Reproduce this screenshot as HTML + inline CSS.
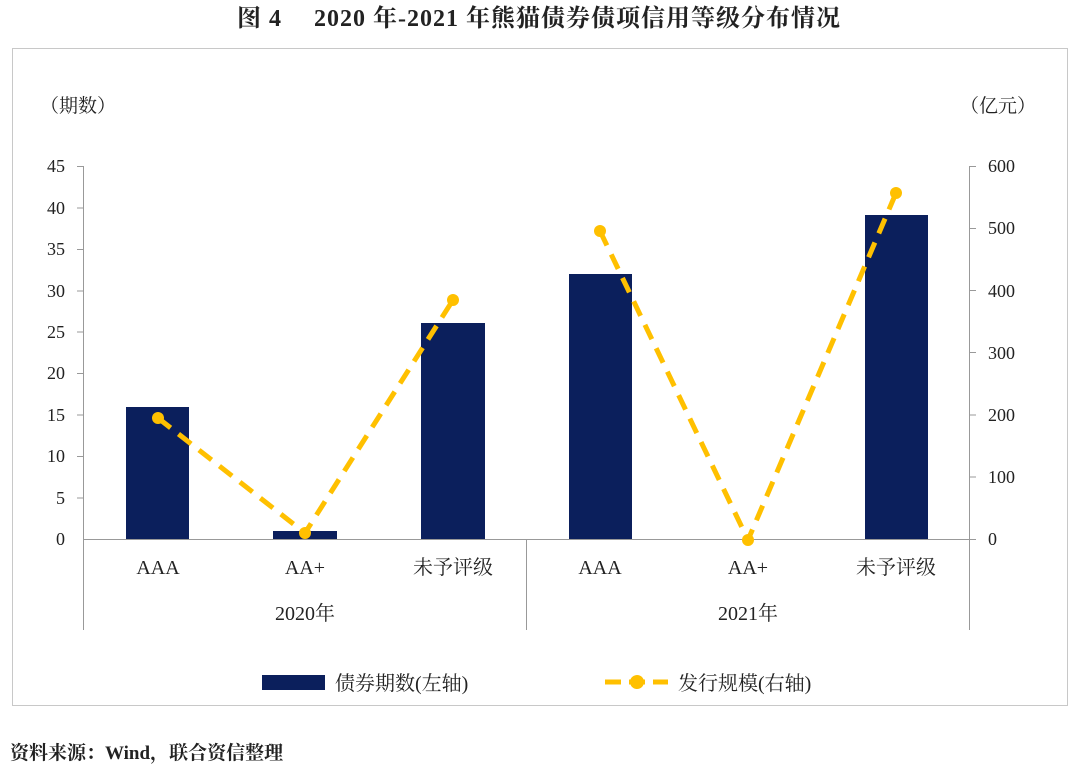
<!DOCTYPE html>
<html><head><meta charset="utf-8"><style>
body{margin:0;background:#fff;width:1080px;height:770px;overflow:hidden}
svg text{font-family:"Liberation Serif","Noto Serif CJK SC","Noto Sans CJK SC",serif;fill:#222}
</style></head><body>
<svg width="1080" height="770" viewBox="0 0 1080 770" xmlns="http://www.w3.org/2000/svg">
<rect width="1080" height="770" fill="#fff"/>
<text x="539" y="26" font-size="24" text-anchor="middle" font-weight="bold" letter-spacing="1">图 4　 2020 年-2021 年熊猫债券债项信用等级分布情况</text>
<rect x="12.5" y="48.5" width="1055" height="657" fill="none" stroke="#c8c8c8" stroke-width="1"/>
<text x="40" y="112" font-size="19">（期数）</text>
<text x="960" y="112" font-size="19">（亿元）</text>
<g font-size="18" text-anchor="end">
<text x="65" y="545">0</text><text x="65" y="504">5</text><text x="65" y="462">10</text><text x="65" y="421">15</text><text x="65" y="379">20</text><text x="65" y="338">25</text><text x="65" y="297">30</text><text x="65" y="255">35</text><text x="65" y="214">40</text><text x="65" y="172">45</text>
</g>
<g font-size="18" text-anchor="start">
<text x="988" y="545">0</text><text x="988" y="483">100</text><text x="988" y="421">200</text><text x="988" y="359">300</text><text x="988" y="297">400</text><text x="988" y="234">500</text><text x="988" y="172">600</text>
</g>
<g stroke="#999" stroke-width="1">
<line x1="83.5" y1="166" x2="83.5" y2="630"/>
<line x1="969.5" y1="166" x2="969.5" y2="630"/>
<line x1="526.5" y1="539" x2="526.5" y2="630"/>
<line x1="83" y1="539.5" x2="970" y2="539.5"/>
<g>
<line x1="77" y1="166.5" x2="83" y2="166.5"/><line x1="77" y1="208" x2="83" y2="208"/><line x1="77" y1="249.5" x2="83" y2="249.5"/><line x1="77" y1="291" x2="83" y2="291"/><line x1="77" y1="332" x2="83" y2="332"/><line x1="77" y1="373.5" x2="83" y2="373.5"/><line x1="77" y1="415" x2="83" y2="415"/><line x1="77" y1="456.5" x2="83" y2="456.5"/><line x1="77" y1="498" x2="83" y2="498"/>
<line x1="970" y1="166.5" x2="976" y2="166.5"/><line x1="970" y1="228.5" x2="976" y2="228.5"/><line x1="970" y1="290.5" x2="976" y2="290.5"/><line x1="970" y1="352.5" x2="976" y2="352.5"/><line x1="970" y1="415" x2="976" y2="415"/><line x1="970" y1="477" x2="976" y2="477"/><line x1="970" y1="539.5" x2="976" y2="539.5"/>
</g></g>
<g fill="#0b1f5c">
<rect x="126" y="407" width="63" height="132"/>
<rect x="273" y="531" width="64" height="8"/>
<rect x="421" y="323" width="64" height="216"/>
<rect x="569" y="274" width="63" height="265"/>
<rect x="865" y="215" width="63" height="324"/>
</g>
<polyline points="158,418 305,533 453,300" fill="none" stroke="#ffc000" stroke-width="5" stroke-dasharray="16,10"/>
<polyline points="600,231 748,540 896,193" fill="none" stroke="#ffc000" stroke-width="5" stroke-dasharray="16,10"/>
<g fill="#ffc000">
<circle cx="158" cy="418" r="6"/><circle cx="305" cy="533" r="6"/><circle cx="453" cy="300" r="6"/><circle cx="600" cy="231" r="6"/><circle cx="748" cy="540" r="6"/><circle cx="896" cy="193" r="6"/>
</g>
<g font-size="20" text-anchor="middle">
<text x="158" y="574">AAA</text><text x="305" y="574">AA+</text><text x="453" y="574">未予评级</text>
<text x="600" y="574">AAA</text><text x="748" y="574">AA+</text><text x="896" y="574">未予评级</text>
<text x="305" y="620">2020年</text><text x="748" y="620">2021年</text>
</g>
<rect x="262" y="675" width="63" height="15" fill="#0b1f5c"/>
<text x="335" y="690" font-size="20">债券期数(左轴)</text>
<line x1="605" y1="682" x2="668" y2="682" stroke="#ffc000" stroke-width="5" stroke-dasharray="16,8"/>
<circle cx="637" cy="682" r="7" fill="#ffc000"/>
<text x="678" y="690" font-size="20">发行规模(右轴)</text>
<text x="10" y="759" font-size="19" font-weight="bold">资料来源：Wind，联合资信整理</text>
</svg>
</body></html>
